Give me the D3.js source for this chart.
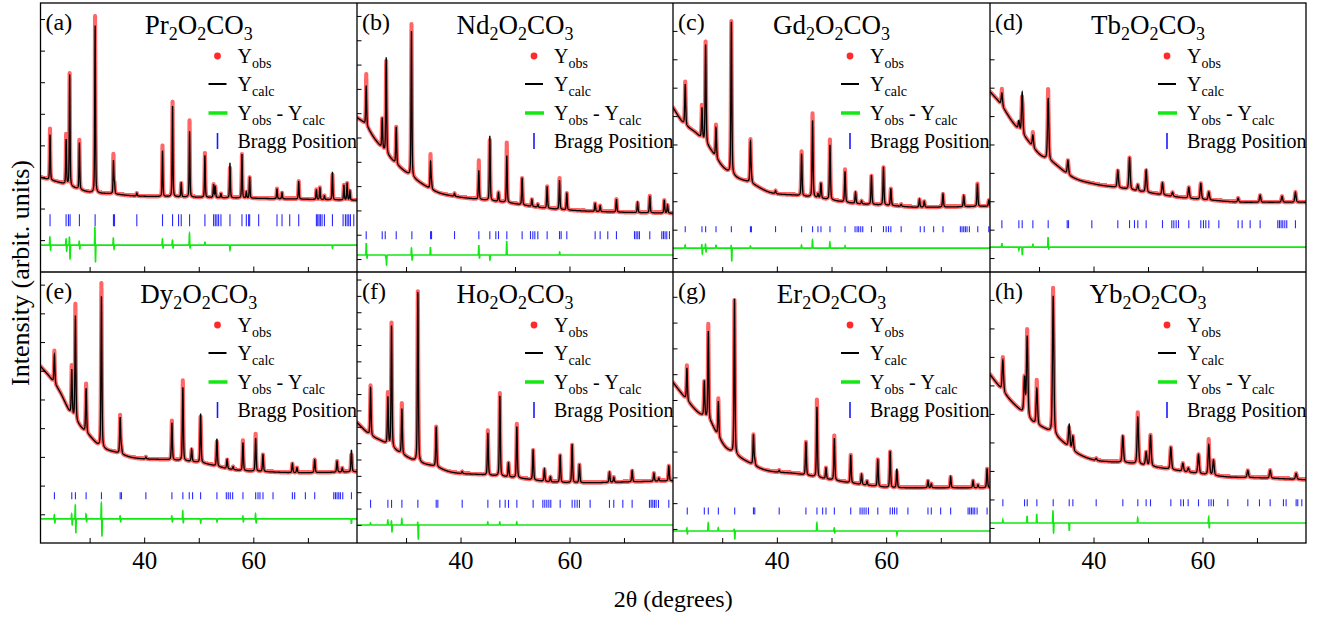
<!DOCTYPE html>
<html><head><meta charset="utf-8">
<script src="https://cdn.jsdelivr.net/npm/d3@7"></script>
<style>
html,body{margin:0;padding:0;background:#fff;}
svg{display:block;}
svg text{font-family:"Liberation Serif","Times New Roman",serif;fill:#000;}
</style></head><body>
<svg id="chart" width="1325" height="620"></svg>
<script>
// ---------- shared axis values ----------
const twoThetaRange = [21, 79];
const majorTicks = [40, 60];
const minorTicks = [30, 50, 70];
const xTitle = "2θ (degrees)";
const yTitle = "Intensity (arbit. units)";

// ---------- panels ----------
const panelLetters = ["a", "b", "c", "d", "e", "f", "g", "h"];
const rareEarths = ["Pr", "Nd", "Gd", "Tb", "Dy", "Ho", "Er", "Yb"];

// background anchors [2θ, intensity]
const bgPr = [[21,95],[23,92],[25,89],[27.5,84],[30,80],[34,78.5],[38,76.5],[45,75.5],[55,74.5],[65,73.5],[79,72]];
const bgNd = [[21,155],[22.4,149],[24.2,134],[26.7,117],[29.1,104],[32.8,89],[35.8,80],[38.9,76],[43.2,73],[48.1,70],[54.2,65],[60.3,62],[69.5,60],[79,59]];
const bgGd = [[21,165],[22.8,150],[25.3,139],[27.7,124],[30.2,105],[32.6,95],[35,90],[38.7,80],[43.6,77],[47.9,74],[54,69],[60.1,67],[66.2,65],[79,66]];
const bgTb = [[21,181],[22.75,170],[25.2,150],[27.6,134],[30.1,118],[32.5,110],[36.2,95],[40.5,88],[44.2,85],[49.7,80],[55.8,75],[61.9,72],[68,70],[79,70]];
const bgDy = [[21,176],[22.75,165],[24.6,150],[26.4,130],[28.3,116],[30.1,106],[31.9,96],[35,90],[38,85],[44.2,83],[50.3,80],[56.4,73],[62.5,71],[68.6,70],[79,71]];
const bgHo = [[21,120],[23.3,108],[25.7,101],[28.8,90],[31.9,81],[35.5,76],[38,71],[44.1,68],[50.2,65],[56.3,61],[62.4,60],[71.6,61],[79,62]];
const bgEr = [[21,160],[23,146],[25.4,131],[27.9,120],[28.9,110],[30.5,96],[31.6,91],[34.6,81],[37.7,73],[43.8,69],[49.9,63],[56,58],[62.1,55],[68.3,55],[79,55]];
const bgYb = [[21,168],[22.1,160],[24.6,143],[26.4,133],[28.9,120],[31.3,113],[33.8,103],[36.8,90],[39.9,83],[42.9,81],[46,80],[52.1,75],[58.2,70],[64.3,66],[70.5,65],[79,63]];

// fitted reflections [2θ, peak height above background]
const peaksPr = [[22.75,45],[25.7,45],[26.35,111],[28.13,47],[31.01,168],[34.37,33],[34.56,10],[38.65,3],[43.36,46],[45.2,91],[46.79,14],[48.32,66],[51.13,42],[52.72,13],[53.03,11],[54.07,4],[55.72,35],[57.92,44],[58.72,6],[59.33,21],[64.34,10],[65.26,6],[68.32,18],[71.56,10],[72.2,12],[73.03,4],[74.5,28],[76.6,15],[77.19,17],[77.7,9]];
const peaksNd = [[22.69,40],[25.63,30],[26.36,96],[28.2,37],[31.0,146],[34.5,27],[34.68,6],[38.9,3],[43.36,29],[45.38,65],[46.97,9],[48.5,47],[51.31,27],[53.1,7],[54.19,3],[55.9,22],[58.17,29],[59.51,17],[64.71,8],[65.63,6],[68.62,13],[72.5,10],[74.74,17],[77.4,13],[78.0,8]];
const peaksGd = [[23.24,41],[26.3,31],[26.97,99],[28.87,30],[31.68,153],[35.17,41],[35.35,5],[39.76,3],[44.53,42],[46.54,77],[47.52,4],[48.07,15],[49.72,55],[52.48,31],[54.4,11],[55.5,3],[57.31,29],[59.51,38],[60.86,17],[62.75,2],[66.1,8],[66.97,6],[70.4,13],[74.2,11],[76.7,23],[78.78,6]];
const peaksTb = [[23.18,13],[26.3,9],[26.91,42],[28.87,12],[31.68,62],[35.3,14],[44.46,17],[46.61,32],[48.13,6],[49.66,22],[52.66,12],[54.5,4],[57.49,11],[59.69,16],[61.16,8],[66.54,4],[70.58,7],[74.6,6],[77.06,10]];
const peaksDy = [[23.55,29],[26.73,45],[27.4,104],[29.36,44],[32.17,150],[35.6,36],[35.84,6],[40.31,2],[45.08,37],[47.09,73],[48.7,12],[50.34,49],[53.33,27],[55.2,9],[56.3,3],[58.1,28],[60.43,33],[61.77,17],[67.16,9],[68.0,5],[71.25,13],[75.35,11],[76.3,4],[77.98,22]];
const peaksHo = [[23.49,48],[26.67,47],[27.34,121],[29.24,45],[32.17,169],[35.54,40],[40.31,2],[45.02,42],[47.22,80],[48.81,14],[50.34,51],[53.33,30],[55.4,12],[56.5,5],[58.29,27],[60.49,38],[61.83,18],[67.34,10],[68.13,5],[71.5,11],[75.5,8],[76.4,3],[78.23,15]];
const peaksEr = [[23.55,32],[26.73,35],[27.46,88],[29.3,35],[32.25,154],[35.72,30],[35.96,5],[40.43,2],[45.32,33],[47.34,70],[48.99,11],[50.52,42],[53.52,28],[55.5,10],[56.5,4],[58.47,27],[60.73,36],[61.96,19],[67.65,7],[68.26,4],[71.8,11],[75.9,7],[76.8,3],[78.47,19]];
const peaksYb = [[23.36,31],[27.34,36],[27.83,80],[29.6,36],[32.6,138],[35.54,23],[36.21,14],[40.49,2],[45.38,26],[48.13,47],[49.66,13],[50.46,31],[54.19,22],[56.4,8],[57.4,4],[59.27,19],[61.16,30],[62.02,15],[68.32,7],[72.42,8],[77.19,6]];

// allowed reflection positions (2θ)
const braggPr = [22.75,25.69,26.12,26.42,28.13,31.01,34.37,34.56,38.65,43.36,45.2,46.3,46.79,48.32,51.13,52.72,53.03,53.33,53.64,54.07,55.72,57.92,58.72,59.14,59.33,60.98,64.34,65.26,66.67,68.32,71.56,71.8,72.05,72.29,72.6,73.03,74.5,76.45,76.88,77.19,77.49,77.8,78.41];
const braggNd = [22.69,25.63,26.18,28.2,31.07,34.5,34.68,38.9,43.36,45.38,46.48,46.97,48.5,51.31,52.84,53.27,53.64,54.19,55.9,58.17,58.47,59.51,64.71,65.63,67.03,68.62,71.93,72.23,72.54,72.84,74.74,76.94,77.25,77.55,77.86,78.35];
const braggGd = [23.24,26.3,26.97,28.87,31.68,35.17,35.35,39.76,44.53,46.54,47.52,48.07,49.72,52.48,54.31,54.68,54.98,55.35,55.72,57.31,59.51,60.0,60.43,60.86,62.75,66.24,66.97,68.69,70.4,73.58,73.88,74.19,74.5,74.8,75.23,76.76,78.78];
const braggTb = [23.18,26.3,26.91,28.87,31.68,35.17,35.41,39.69,44.46,46.61,47.52,48.13,49.66,52.66,54.37,54.74,55.17,55.6,57.49,59.69,60.18,60.61,61.16,63.0,66.54,67.28,68.75,70.58,73.82,74.13,74.43,74.74,75.11,75.47,77.06];
const braggDy = [23.55,26.73,27.4,29.36,32.17,35.6,35.84,40.31,45.08,47.09,48.26,48.87,50.34,53.33,55.05,55.41,55.78,56.21,58.1,60.43,60.86,61.22,61.77,63.61,67.16,67.58,69.54,71.25,74.74,75.05,75.35,75.66,75.96,76.39,77.98];
const braggHo = [23.49,26.67,27.34,29.24,32.17,35.54,35.84,40.31,45.02,47.22,48.2,48.81,50.34,53.33,55.11,55.47,55.84,56.21,56.57,58.29,60.49,60.98,61.41,61.83,63.79,67.34,68.13,69.79,71.5,74.68,74.99,75.29,75.6,75.9,76.33,78.23];
const braggEr = [23.61,26.73,27.46,29.3,32.29,35.72,35.96,40.43,45.32,47.34,48.38,48.99,50.52,53.52,55.23,55.6,55.96,56.33,56.76,58.47,60.73,61.16,61.53,61.96,63.98,67.65,68.26,69.97,71.8,74.99,75.29,75.6,75.9,76.21,76.64,78.47];
const braggYb = [23.36,27.34,27.83,29.6,32.6,35.54,36.21,40.49,45.38,48.13,49.66,50.46,54.19,56.02,56.51,57.37,59.27,61.16,61.59,62.02,64.65,68.32,70.46,72.42,74.86,75.35,77.19,77.49,78.23];

// misfit features of the difference curve [2θ, Yobs - Ycalc]
const diffPr = [[22.72,8],[22.85,-5],[25.68,6],[25.8,-6],[26.3,8],[26.42,-14],[28.1,4],[28.2,-4],[30.97,18],[31.08,-17],[34.35,7],[34.48,-4],[43.34,6],[43.46,-3],[45.18,5],[45.3,-3],[48.3,12],[48.42,-3],[51.13,3],[55.72,-5],[74.5,-3]];
const diffNd = [[22.7,12],[22.85,-3],[26.3,-3],[26.42,-10],[31.0,7],[31.12,-5],[34.48,8],[43.36,10],[43.48,-3],[45.4,-5],[48.48,14],[58.2,3]];
const diffGd = [[23.22,3],[26.28,4],[26.36,-6],[26.95,4],[27.05,-4],[28.87,3],[31.66,3],[31.75,-13],[35.17,2],[44.51,3],[46.52,8],[49.7,6],[52.48,2]];
const diffTb = [[23.18,4],[26.3,-3],[26.93,-8],[28.87,3],[31.66,10],[31.78,-2]];
const diffDy = [[23.53,4],[23.63,-4],[26.71,5],[26.81,-6],[27.38,14],[27.48,-14],[29.35,5],[29.45,-3],[32.15,16],[32.26,-17],[35.58,3],[35.68,-3],[45.06,3],[45.16,-3],[47.07,8],[47.17,-4],[50.36,-4],[53.35,-3],[58.08,3],[58.18,-3],[60.41,5],[60.51,-4],[77.98,-5]];
const diffHo = [[23.48,2],[26.65,5],[27.32,4],[27.42,-7],[29.22,6],[32.15,3],[32.25,-14],[45.0,3],[47.2,3],[50.32,3]];
const diffEr = [[23.53,3],[23.63,-3],[27.44,8],[29.28,3],[32.22,2],[32.31,-8],[47.32,8],[50.5,3],[50.6,-2],[61.98,-4]];
const diffYb = [[23.36,3],[27.81,7],[29.58,9],[32.56,12],[32.67,-10],[35.56,-8],[48.11,5],[61.14,6],[61.24,-5]];

// per-panel profile width (FWHM, degrees), difference offset, Bragg row level
const fwhmList = [0.17, 0.19, 0.21, 0.28, 0.21, 0.21, 0.21, 0.3];
const diffBaseList = [27, 17, 24, 25, 24, 18, 12, 20];
const braggLevelList = [52, 37, 43, 48, 47, 39, 32, 40];
// intensity tick marks: first value and spacing
const yTickStartList = [32, 13, 14, 14, 28.6, 18, 14, 15];
const yTickStepList = [31.7, 24.4, 28.5, 28.5, 28.6, 16.3, 25.7, 28.4];
const yMax = 270;

const bgList = [bgPr, bgNd, bgGd, bgTb, bgDy, bgHo, bgEr, bgYb];
const peakList = [peaksPr, peaksNd, peaksGd, peaksTb, peaksDy, peaksHo, peaksEr, peaksYb];
const braggList = [braggPr, braggNd, braggGd, braggTb, braggDy, braggHo, braggEr, braggYb];
const diffList = [diffPr, diffNd, diffGd, diffTb, diffDy, diffHo, diffEr, diffYb];

// ---------- layout & style ----------
const colEdges = [40.5, 357, 673, 990, 1306];
const rowEdges = [3, 272, 543];
const braggTickLen = [12, 8, 6, 8, 7, 8, 7, 7];
const C = { obs: "#ff2b2b", calc: "#000000", diff: "#12e812", bragg: "#2a2aff", frame: "#000" };
const step = 0.02;
const dotR = 2.1;
const SERIF = "Liberation Serif, Times New Roman, serif";

// ---------- profile helpers ----------
function monotone(pts) {
  const n = pts.length, xs = pts.map(p => p[0]), ys = pts.map(p => p[1]);
  const dx = [], m = [], t = new Array(n);
  for (let i = 0; i < n - 1; i++) { dx[i] = xs[i + 1] - xs[i]; m[i] = (ys[i + 1] - ys[i]) / dx[i]; }
  t[0] = m[0]; t[n - 1] = m[n - 2];
  for (let i = 1; i < n - 1; i++) t[i] = (m[i - 1] * m[i] <= 0) ? 0 : (m[i - 1] + m[i]) / 2;
  for (let i = 0; i < n - 1; i++) {
    if (m[i] === 0) { t[i] = 0; t[i + 1] = 0; continue; }
    const a = t[i] / m[i], b = t[i + 1] / m[i], s = a * a + b * b;
    if (s > 9) { const k = 3 / Math.sqrt(s); t[i] = k * a * m[i]; t[i + 1] = k * b * m[i]; }
  }
  return x => {
    let i = d3.bisectRight(xs, x) - 1;
    i = Math.max(0, Math.min(n - 2, i));
    const h = dx[i], u = (x - xs[i]) / h, u2 = u * u, u3 = u2 * u;
    return (2 * u3 - 3 * u2 + 1) * ys[i] + (u3 - 2 * u2 + u) * h * t[i] +
           (-2 * u3 + 3 * u2) * ys[i + 1] + (u3 - u2) * h * t[i + 1];
  };
}
function pseudoVoigt(d, f) {
  const q = 4 * (d / f) * (d / f);
  return 0.6 * Math.exp(-Math.LN2 * q) + 0.4 / (1 + q);
}
function gauss(d, f) { return Math.exp(-4 * Math.LN2 * (d / f) * (d / f)); }

const svg = d3.select("#chart");
const defs = svg.append("defs");

panelLetters.forEach((letter, k) => {
  const col = k % 4, row = Math.floor(k / 4);
  const x0 = colEdges[col], x1 = colEdges[col + 1];
  const top = rowEdges[row], bottom = rowEdges[row + 1];

  const x = d3.scaleLinear().domain(twoThetaRange).range([x0, x1]);
  const y = d3.scaleLinear().domain([0, yMax]).range([bottom, top]);

  const bgFn = monotone(bgList[k]);
  const peaks = peakList[k], diffs = diffList[k], fw = fwhmList[k], base = diffBaseList[k];
  const profileAt = t => {
    let calc = bgFn(t);
    for (const [p, a] of peaks) { const d = t - p; if (Math.abs(d) < 6) calc += a * pseudoVoigt(d, fw); }
    let dv = 0;
    for (const [p, a] of diffs) { const d = t - p; if (Math.abs(d) < 0.6) dv += a * gauss(d, 0.09); }
    return { t, calc, obs: calc + dv, diff: base + dv };
  };

  // sample the pattern; steep flanks get extra samples so the point cloud stays continuous
  const grid = d3.range(twoThetaRange[0], twoThetaRange[1] + step / 2, step);
  const pts = [];
  grid.forEach((t, i) => {
    const p = profileAt(t);
    if (i > 0) {
      const prev = pts[pts.length - 1];
      const jump = Math.max(Math.abs(y(p.obs) - y(prev.obs)), Math.abs(y(p.calc) - y(prev.calc)));
      const n = Math.ceil(jump / 1.2);
      for (let j = 1; j < n; j++) pts.push(profileAt(prev.t + (t - prev.t) * j / n));
    }
    pts.push(p);
  });

  const clipId = "clip-" + letter;
  defs.append("clipPath").attr("id", clipId)
    .append("rect").attr("x", x0).attr("y", top).attr("width", x1 - x0).attr("height", bottom - top);

  const g = svg.append("g").attr("class", "panel-" + letter);
  const plot = g.append("g").attr("clip-path", `url(#${clipId})`);

  // observed points (one path of small discs)
  const dots = d3.path();
  pts.forEach(d => {
    const cx = x(d.t), cy = y(d.obs);
    dots.moveTo(cx + dotR, cy);
    dots.arc(cx, cy, dotR, 0, 2 * Math.PI);
  });
  plot.append("path").attr("d", dots.toString()).attr("fill", C.obs).attr("fill-opacity", 0.72);

  // calculated profile
  plot.append("path").datum(pts)
    .attr("fill", "none").attr("stroke", C.calc).attr("stroke-width", 1.3)
    .attr("d", d3.line().x(d => x(d.t)).y(d => y(d.calc)));

  // difference curve
  plot.append("path").datum(pts)
    .attr("fill", "none").attr("stroke", C.diff).attr("stroke-width", 1.6)
    .attr("d", d3.line().x(d => x(d.t)).y(d => y(d.diff)));

  // Bragg reflection markers
  const lvl = braggLevelList[k], hl = braggTickLen[k] / 2;
  plot.append("g").attr("stroke", C.bragg).attr("stroke-width", 1.1)
    .selectAll("line").data(braggList[k]).join("line")
    .attr("x1", d => x(d)).attr("x2", d => x(d))
    .attr("y1", y(lvl) - hl).attr("y2", y(lvl) + hl);

  // axes: inward ticks
  const yTicks = d3.range(yTickStartList[k], yMax - 1, yTickStepList[k]);
  g.append("g").attr("transform", `translate(${x0},0)`)
    .call(d3.axisLeft(y).tickValues(yTicks).tickSize(-4.5).tickFormat(""))
    .call(a => a.select(".domain").remove())
    .selectAll("line").attr("stroke", C.frame);

  g.append("g").attr("transform", `translate(0,${bottom})`)
    .call(d3.axisBottom(x).tickValues(minorTicks).tickSize(-5).tickFormat(""))
    .call(a => a.select(".domain").remove())
    .selectAll("line").attr("stroke", C.frame);
  const major = g.append("g").attr("transform", `translate(0,${bottom})`)
    .call(d3.axisBottom(x).tickValues(majorTicks).tickSize(-5.5).tickPadding(8)
      .tickFormat(row === 1 ? d3.format("d") : ""))
    .call(a => a.select(".domain").remove());
  major.attr("font-family", SERIF).attr("font-size", 25);
  major.selectAll("line").attr("stroke", C.frame);
  major.selectAll("text").attr("fill", "#000");

  // panel letter
  g.append("text").attr("x", x0 + 5).attr("y", top + 27)
    .attr("font-size", 24).text(`(${letter})`);

  // compound title
  const title = g.append("text").attr("x", (x0 + x1) / 2).attr("y", top + 31)
    .attr("text-anchor", "middle").attr("font-size", 27);
  const parts = [[rareEarths[k], 0], ["2", 1], ["O", 0], ["2", 1], ["CO", 0], ["3", 1]];
  let sub = false;
  parts.forEach(([s, isSub]) => {
    const ts = title.append("tspan").text(s);
    if (isSub) { ts.attr("font-size", 18).attr("dy", sub ? 0 : 6); sub = true; }
    else { ts.attr("dy", sub ? -6 : 0); sub = false; }
  });

  // legend
  const lx = x0 + 177, tx = x0 + 197;
  const rows = [top + 53, top + 81, top + 110, top + 138];
  const lg = g.append("g");
  lg.append("circle").attr("cx", lx).attr("cy", rows[0]).attr("r", 3.4).attr("fill", C.obs);
  lg.append("line").attr("x1", lx - 9).attr("x2", lx + 9).attr("y1", rows[1]).attr("y2", rows[1])
    .attr("stroke", C.calc).attr("stroke-width", 2);
  lg.append("line").attr("x1", lx - 9).attr("x2", lx + 10).attr("y1", rows[2]).attr("y2", rows[2])
    .attr("stroke", C.diff).attr("stroke-width", 3.5);
  lg.append("line").attr("x1", lx).attr("x2", lx).attr("y1", rows[3] - 8).attr("y2", rows[3] + 8)
    .attr("stroke", "#1a1aff").attr("stroke-width", 1.6);

  const entry = (r, pieces) => {
    const t = lg.append("text").attr("x", tx).attr("y", rows[r] + 7).attr("font-size", 20);
    let shifted = false;
    pieces.forEach(([s, isSub]) => {
      const ts = t.append("tspan").text(s);
      if (isSub) { ts.attr("font-size", 14).attr("dy", shifted ? 0 : 5); shifted = true; }
      else { ts.attr("dy", shifted ? -5 : 0); shifted = false; }
    });
  };
  entry(0, [["Y", 0], ["obs", 1]]);
  entry(1, [["Y", 0], ["calc", 1]]);
  entry(2, [["Y", 0], ["obs", 1], ["\u00a0-\u00a0Y", 0], ["calc", 1]]);
  entry(3, [["Bragg Position", 0]]);
});

// frames
const frame = svg.append("g").attr("fill", "none").attr("stroke", C.frame).attr("stroke-width", 1.3);
frame.append("rect").attr("x", colEdges[0]).attr("y", rowEdges[0])
  .attr("width", colEdges[4] - colEdges[0]).attr("height", rowEdges[2] - rowEdges[0]);
colEdges.slice(1, 4).forEach(cx => frame.append("line")
  .attr("x1", cx).attr("x2", cx).attr("y1", rowEdges[0]).attr("y2", rowEdges[2]));
frame.append("line").attr("x1", colEdges[0]).attr("x2", colEdges[4])
  .attr("y1", rowEdges[1]).attr("y2", rowEdges[1]);

// axis titles
svg.append("text").attr("x", (colEdges[0] + colEdges[4]) / 2).attr("y", 607)
  .attr("text-anchor", "middle").attr("font-size", 24).text(xTitle);
svg.append("text").attr("transform", `translate(29,${(rowEdges[0] + rowEdges[2]) / 2}) rotate(-90)`)
  .attr("text-anchor", "middle").attr("font-size", 26).text(yTitle);
</script>
</body></html>
